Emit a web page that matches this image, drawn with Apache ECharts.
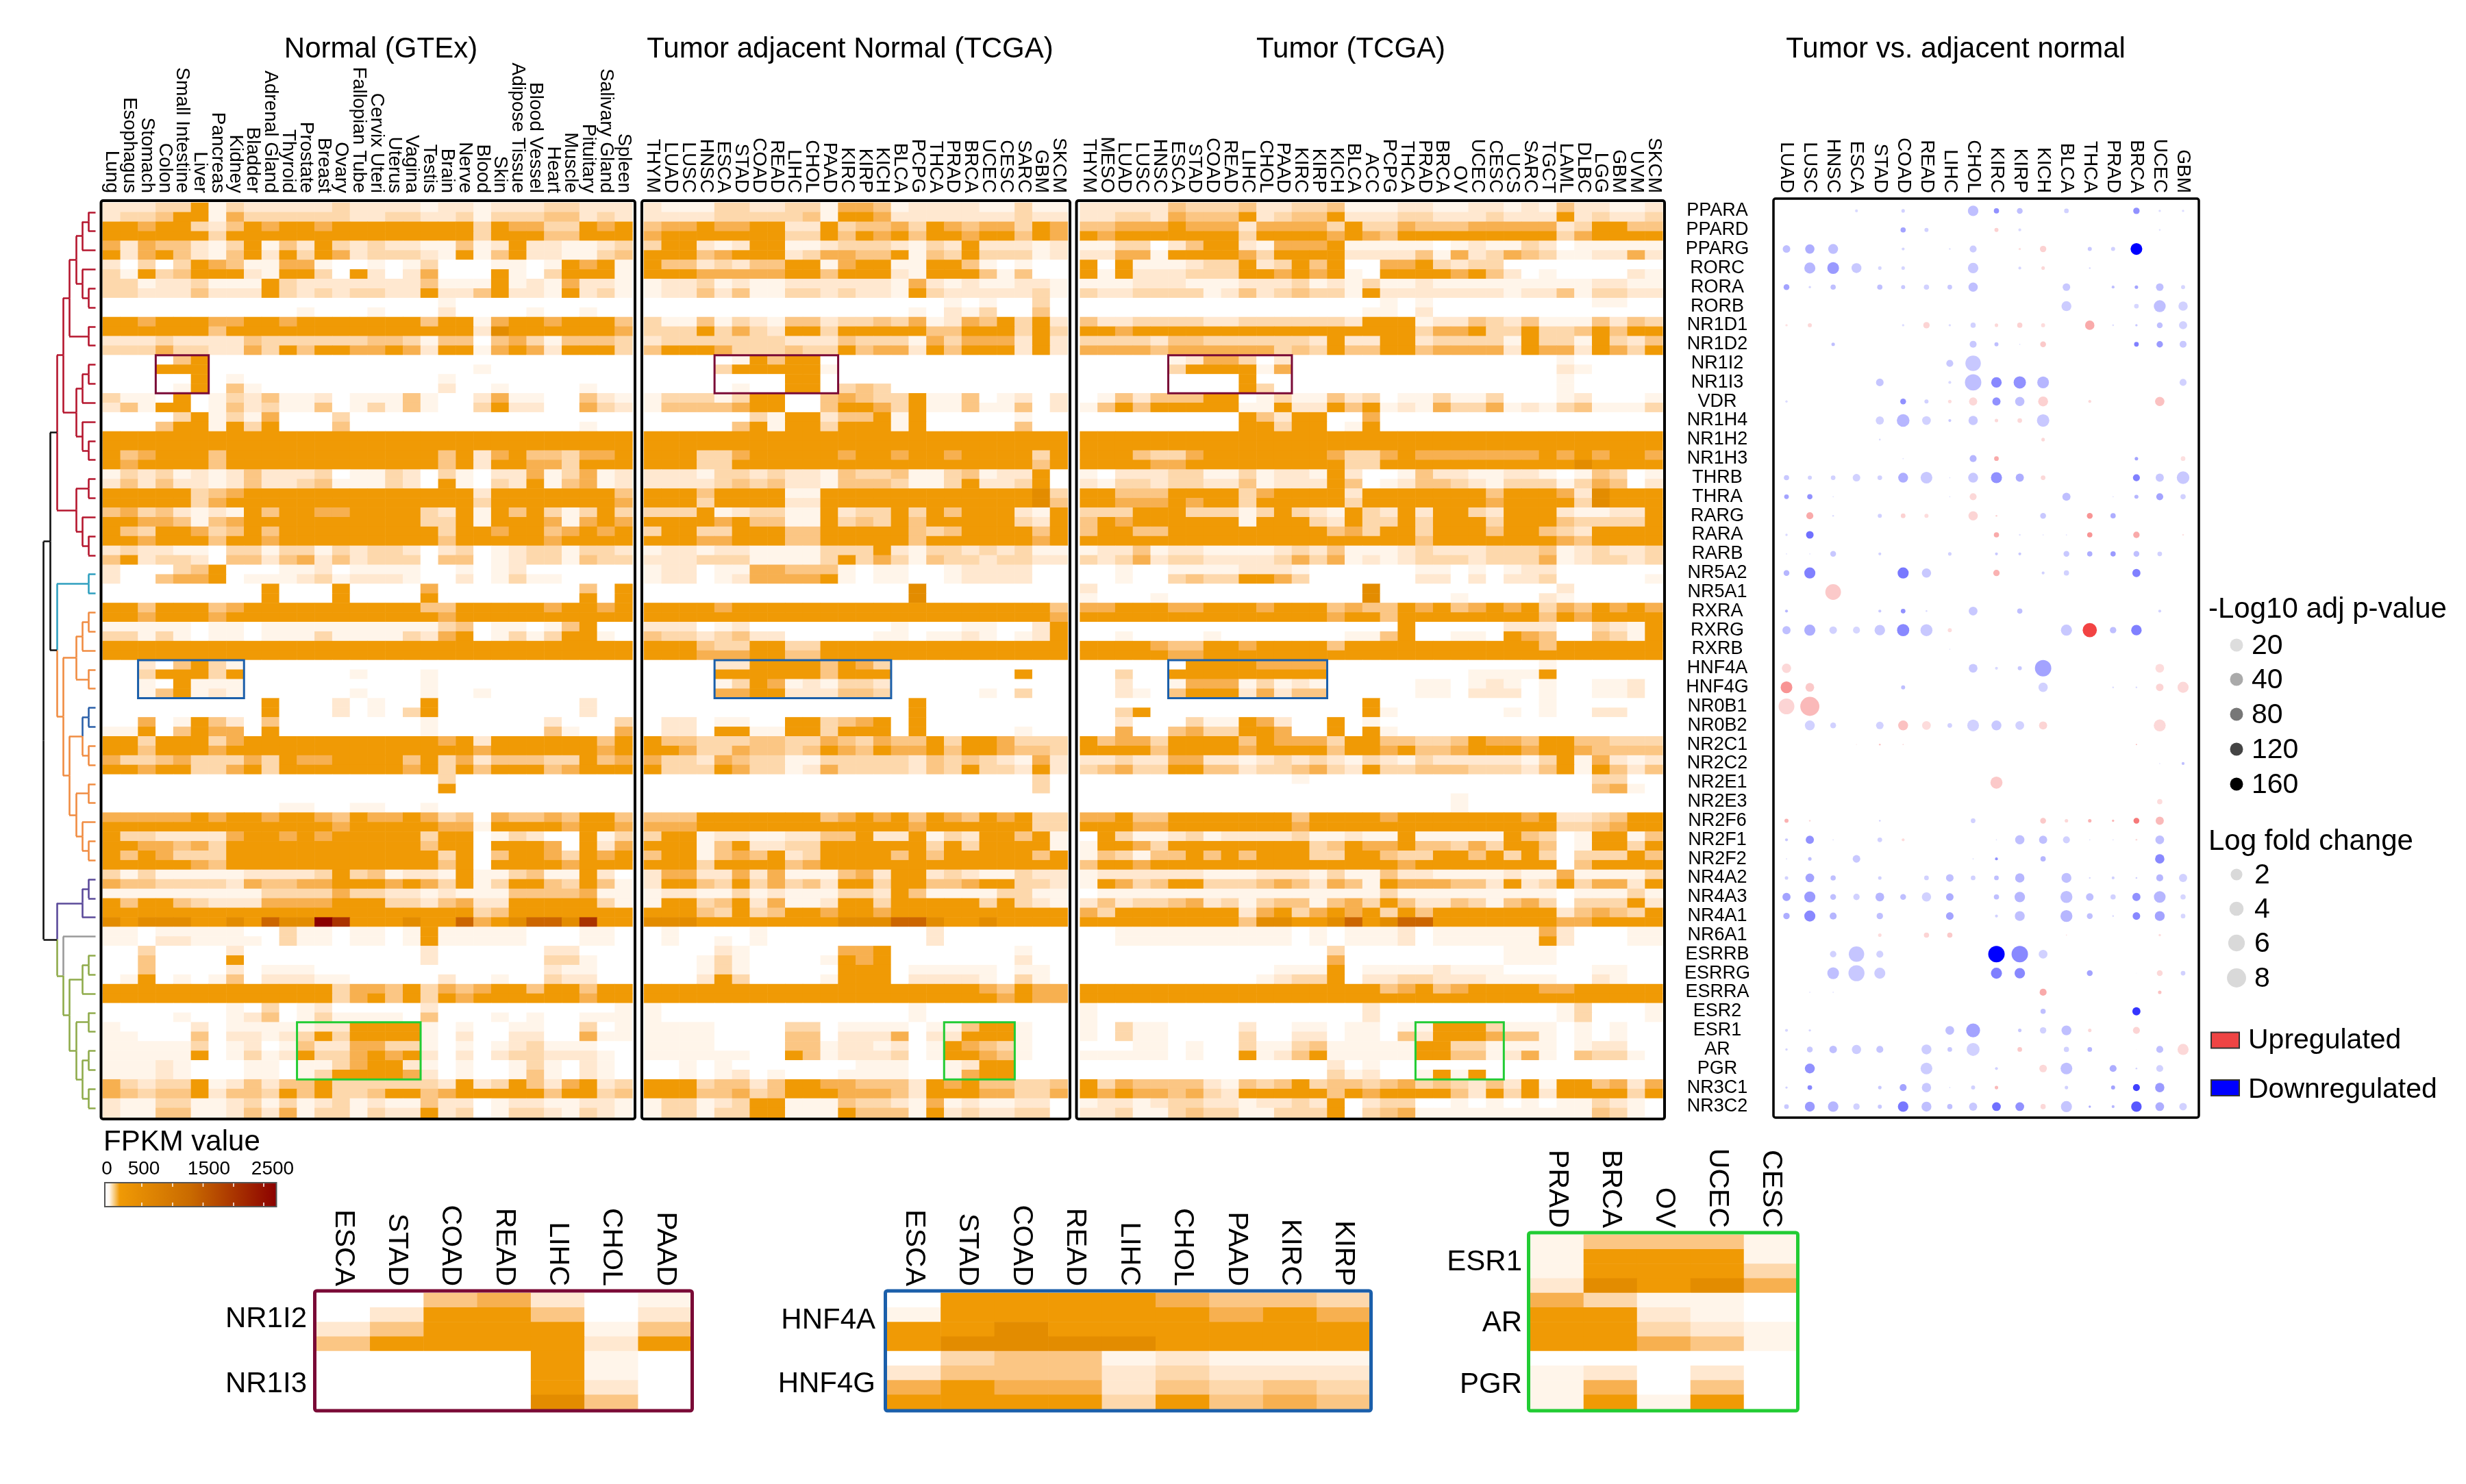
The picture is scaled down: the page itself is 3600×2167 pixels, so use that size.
<!DOCTYPE html>
<html><head><meta charset="utf-8">
<style>html,body{margin:0;padding:0;background:#fff}#c{width:3600px;height:2167px}</style>
<script src="https://cdn.jsdelivr.net/npm/echarts@6/dist/echarts.min.js"></script>
</head><body><div id="c"></div>
<script>
const FONT='"Liberation Sans",Arial,sans-serif';
const genes=["PPARA","PPARD","PPARG","RORC","RORA","RORB","NR1D1","NR1D2","NR1I2","NR1I3","VDR","NR1H4","NR1H2","NR1H3","THRB","THRA","RARG","RARA","RARB","NR5A2","NR5A1","RXRA","RXRG","RXRB","HNF4A","HNF4G","NR0B1","NR0B2","NR2C1","NR2C2","NR2E1","NR2E3","NR2F6","NR2F1","NR2F2","NR4A2","NR4A3","NR4A1","NR6A1","ESRRB","ESRRG","ESRRA","ESR2","ESR1","AR","PGR","NR3C1","NR3C2"];
const gtexTissues=["Lung","Esophagus","Stomach","Colon","Small Intestine","Liver","Pancreas","Kidney","Bladder","Adrenal Gland","Thyroid","Prostate","Breast","Ovary","Fallopian Tube","Cervix Uteri","Uterus","Vagina","Testis","Brain","Nerve","Blood","Skin","Adipose Tissue","Blood Vessel","Heart","Muscle","Pituitary","Salivary Gland","Spleen"];
const adjacentTypes=["THYM","LUAD","LUSC","HNSC","ESCA","STAD","COAD","READ","LIHC","CHOL","PAAD","KIRC","KIRP","KICH","BLCA","PCPG","THCA","PRAD","BRCA","UCEC","CESC","SARC","GBM","SKCM"];
const tumorTypes=["THYM","MESO","LUAD","LUSC","HNSC","ESCA","STAD","COAD","READ","LIHC","CHOL","PAAD","KIRC","KIRP","KICH","BLCA","ACC","PCPG","THCA","PRAD","BRCA","OV","UCEC","CESC","UCS","SARC","TGCT","LAML","DLBC","LGG","GBM","UVM","SKCM"];
const deTypes=["LUAD","LUSC","HNSC","ESCA","STAD","COAD","READ","LIHC","CHOL","KIRC","KIRP","KICH","BLCA","THCA","PRAD","BRCA","UCEC","GBM"];
// colour level per gene: [upper half, lower half], one char per column
const gtexLevels=[
["2223361322 2223222212 2122233222","2334661533 3333223322 3133344232"],
["6656632465 6656666666 6365533656","6666663666 6666666666 6366644666"],
["5254421361 4263232211 4126221123","6256421462 6365233321 6146221134"],
["2030365411 5510010130 0011016561","3163466621 6630620250 0061036661"],
["3312231116 3222222241 1161215221","3322242226 3232332262 2462216231"],
["0000000000 0000000001 0000000000","0000000000 0100010002 0000100100"],
["6656665566 5666666646 6156656664","6666664666 6666666666 6276666665"],
["2223222243 3333344314 4045314443","3335332253 6466556526 6156526663"],
["0000460000 0000000000 0000000000","0006660000 0000000000 0100000000"],
["0000060100 0000000001 0000000000","0000160410 0000000002 0010000100"],
["3110601324 1120111410 0251100421","2416601423 1140131410 0362200532"],
["0000361315 0003000000 0000000000","0004661636 0004000000 0000000100"],
["6666666666 6666666666 6666666666","6666666666 6666666666 6666666666"],
["6456664666 6666666664 6256443556","6566664666 6666666664 6266553666"],
["1323121242 2230113203 1022513512","2424221242 2341113206 1032614512"],
["6666634566 6666666666 6266666664","6666635666 6666666666 6366666665"],
["4534212164 6655666632 6164631363","6655414566 6666666633 6166651565"],
["6436653464 6666666663 6656645656","6656664665 6666666664 6666656666"],
["2322110331 3313233202 3012331332","4623320442 4524233304 4012331433"],
["2000346000 1120111100 1012000000","2004556011 1231222100 2013110000"],
["0000000006 0006000050 0000000406","0000000006 0006000060 0000000606"],
["6646664566 6666666644 6666656656","6656665666 6666666665 6666666666"],
["1111101101 1111111113 4011014600","3313101101 1131111325 6013136610"],
["6666666666 6666666666 6666666666","6666666666 6666666666 6666666666"],
["0020463100 0000000000 0000000000","0036663600 0000100010 0000000000"],
["0010611100 0000000010 0000000000","0014612100 0000100010 0100000000"],
["0000000006 0002010060 0000000200","0000000006 0002010360 0000000200"],
["0050164204 0000000010 0000020003","1160465506 0000000010 0000041005"],
["6636663566 6666666665 6266666646","6646665666 6666666666 6566666656"],
["5334533353 6556666463 5244433645","6656633563 6666666563 6466645666"],
["0000000000 0000000003 0000000000","0000000000 0000000006 0000000000"],
["0000000000 0000000000 0000000000","0000000000 1100110010 0000000000"],
["5555565665 6654655653 4054454664","6666666666 6665666665 5166665665"],
["6332222566 5656666636 6013200613","6655453666 6666666646 6066650625"],
["6465333666 6666666663 6046653656","6666654666 6666666664 6066665666"],
["3131111122 2236341221 6113411620","5443333254 4556665653 6136643641"],
["1111111113 3335332212 1114444511","6466432225 5556663324 5226666631"],
["6666666666 6666666666 6346666666","7677766768 77a9666766 8567887966"],
["1101111100 3110110161 1111000110","1102211110 3110110161 1111000110"],
["0030000200 0000000020 0000022000","0040000600 0000000020 0000033100"],
["0040000201 1100000000 0000021100","0160101402 2211000002 0010032200"],
["6666666666 6663554635 4566466466","6666666666 6663564636 5666666566"],
["0000000103 0120000020 0000000001","0000100124 0131111040 0010100111"],
["1000020111 1122666610 1001100301","1100040221 2363666610 2002200511"],
["1111130120 1422553310 1012311100","1111160131 2633565620 2023322210"],
["1112100011 0113566210 1001310210","1112100011 0136666520 1001410210"],
["5323361242 4463333332 6236425623","5434462443 6463346645 6666646634"],
["2113311231 3123121142 2012211221","2114411242 5133132262 3013321321"]];
const adjacentLevels=[
["2111332233 1554122221 1311","2222333334 1665222222 2322"],
["4556556622 6344536545 5365","5666666633 6465646656 6465"],
["3662126611 2333213262 2212","6664566623 5544614363 3312"],
["6442324466 1566116641 0100","6665555566 4666216664 1400"],
["1223121122 2222152121 1221","1224241133 2322163222 2231"],
["0000000000 0000000101 0030","0000000000 0000010213 0040"],
["3114132144 2334351254 6362","3336353266 3666664466 6363"],
["2333333322 2433315355 5262","4666533343 3645526466 6262"],
["0000016466 0000000000 0000","0000366666 1000000000 0000"],
["0000000066 0000000000 0000","0000010066 0343000000 0000"],
["1333136600 4543361140 1202","1444456600 4665361141 1402"],
["0000003166 2446160000 0100","0000046166 3666160000 0400"],
["6666666666 6666666666 6666","6666666666 6666666666 6666"],
["6663356666 6566566566 6636","6663366666 6666666666 6646"],
["2221332322 1433411341 2260","2222343422 1444311362 2360"],
["6664666611 6666666666 6673","6663666622 6666666666 6674"],
["3336123311 6233636466 6216","6666564411 6343646666 6326"],
["3663366644 6666643466 6646","6665566644 6666646666 6656"],
["1221221111 3336213323 2311","2223331111 3635314332 3322"],
["1220115544 4101100122 2200","1220125555 6101100122 2200"],
["0000000000 0000070000 0000","0000000000 0000070000 0000"],
["6666566666 6666666666 6664","6666666666 6666666666 6665"],
["2220120000 0000100011 0026","4332342200 0001101121 0126"],
["6664336633 6666666666 6666","6665556644 6666666666 6666"],
["0000226666 4653000000 0000","0000666666 4666000000 0600"],
["0000136512 1332000000 0000","0000556622 2443000001 0300"],
["0000000000 0000060000 0000","0000000000 0000060000 0000"],
["0220110066 3456060000 0000","0220661166 3666060000 0100"],
["6443334433 5435446366 5333","6653354434 6546556466 5443"],
["5332543311 3333324343 2152","6333653312 5333324363 3262"],
["0000000000 0000000000 0030","0000000000 0000000000 0030"],
["0000000000 0000000000 0000","0000000000 0000000000 0000"],
["4446666666 4565646546 5633","5556666666 6666656666 6633"],
["3661221122 4462261326 6461","6661462233 6666663636 6661"],
["4661454623 6666464666 6646","6663666645 6666666666 6666"],
["2552252511 1452662321 1322","2664363534 2663664456 6332"],
["1221131211 1332641111 3311","1663462511 2663666663 6321"],
["6664363466 5665666666 6666","7776666666 6777887667 6666"],
["0100001000 0000002000 0000","0100101000 0000002000 0000"],
["0000210000 0556000000 0100","0001310000 1656000000 0200"],
["0001310000 0666011111 0110","0002630000 1666022221 0310"],
["6666666666 6666666665 4655","6666666666 6666666666 5655"],
["1000000000 0000010000 0000","1000000000 0000010000 0000"],
["1111000033 0111101146 6100","1111000044 0222502266 6100"],
["1111000044 1221201654 3100","1111110064 1222301665 4100"],
["0010100000 0011100126 6000","0010120100 0111100156 6000"],
["6663442466 5544426564 4334","6664453466 6555426665 5335"],
["1331236611 1433215121 1220","1331336611 1644416232 2330"]];
const tumorLevels=[
["2222243334 2233411122 1122121422 112","2233254446 2344622233 2223222623 223"],
["4455565552 5555363354 4455555236 644","6566666663 6666565466 6666666356 666"],
["1133024662 1555611111 0121132011 111","2255166665 3666622224 1523543112 252"],
["6061112336 2364600556 3233000000 000","6162223336 6565610666 6564201000 021"],
["1112221112 2231213112 1111111112 211","3223333124 2343316222 2222122413 322"],
["0000000000 0000000101 0000000001 100","0000000000 0000001102 0000000000 000"],
["4223333223 3333326661 2243241114 243","6656666666 6666666663 5563363346 466"],
["3333244333 3332622662 3333163316 324","5555455555 5343644664 5555265526 536"],
["0000012553 0200000000 0000000100 000","0000036666 1500000000 0000000210 000"],
["0000000006 0000000000 0000000100 000","0000000006 3000000000 0000000100 000"],
["0142444660 1311423011 3113000120 001","1464666661 1622646121 5335121341 113"],
["0000000006 4266005000 0000000000 000","0000000006 6366016000 0000000000 000"],
["6666666666 6666666666 6666666666 666","6666666666 6666666666 6666666666 666"],
["6664335666 6666533565 5555556565 665","6666556666 6666633666 6666666676 666"],
["1022233113 1221620014 2211221014 301","2133233224 1222640124 4321333135 402"],
["6644466663 5666626666 6664666527 666","6655565663 6666636666 6665666637 666"],
["3336663331 3632163262 6632666211 226","4656666661 6663263363 6663666433 336"],
["4664466666 6666453663 6664664326 666","6666666666 6666666664 6666666546 666"],
["1224122111 1232411123 2223334123 223","3235233222 2353512123 3323335123 323"],
["0010011112 2210000001 1010122000 000","0010034336 6530000002 2020223000 001"],
["2000000000 0000007000 0000000200 000","1000100000 0000007000 0100002100 000"],
["5566655666 5666454465 6456563546 565","6666666666 6666566466 6666664656 666"],
["0000000000 0000000060 0000222003 216","0010000100 0000011460 0110654004 316"],
["6666544665 6666466666 6666664666 666","6666655666 6666666666 6666666666 666"],
["0000006666 5555000000 0000001000 000","0030066666 6666000000 0011116000 000"],
["0020015551 3121000001 1012101001 120","0021046662 5244000001 1022201001 120"],
["0000000000 0000006000 0000001000 000","0036000000 0000006100 0000101002 200"],
["0020003116 5200601000 0000000000 000","0050045336 6500606100 0000000000 000"],
["6455366664 6555366443 3465546644 333","6666466665 6666466564 4566656654 444"],
["2232255221 2323213213 2222213615 212","3453366442 3345326334 4433324616 424"],
["0000000000 0010000000 0000000003 300","0000000000 0000000000 0000000004 510"],
["0000000000 0000000000 0100000000 000","0000000000 0000000000 0100000000 000"],
["5564466666 6646666566 6666656223 466","6665566666 6656666666 6666666334 566"],
["0631123122 2231121161 1111643016 614","1665366666 6663465564 4353664016 636"],
["1431446464 6663366433 6646363033 364","4665666666 6666666656 6666666046 666"],
["1222222111 2221311422 1111211511 113","1653466333 4542541655 5442623635 526"],
["0111111111 1111111311 1111111011 131","2423345231 3441453642 2431453033 362"],
["5366666662 5635656364 6666666245 436","6666666664 7766786788 6666666556 666"],
["0011111111 1101011120 1111115200 011","0011111111 1101011120 1111116200 011"],
["0000000000 0000300000 0000111000 000","0000000000 0000500000 0000111000 000"],
["0000000000 0111601111 2111000001 100","0000000000 1233602233 2221111002 100"],
["6666666666 6666666456 4566665566 666","6666666666 6666666666 6666666666 666"],
["1000000000 0000002000 0000000130 001","1000000000 0000002000 0000000130 001"],
["1031100002 0011011011 6663111010 100","1031100003 0022011042 6665441010 100"],
["0001101003 1134111116 6331111012 200","1111101006 1246111116 6441251043 310"],
["0000000000 0000201000 0000000000 000","0000000000 0000312001 6160000000 000"],
["6354444214 3463443453 4324261664 525","6565545326 6666465666 6426362666 636"],
["1221233221 2232602330 0101010113 210","2231134331 1333603451 1111111114 310"]];
// zoomed-in panels: four sub-rows per gene, one char per column
const nr1iTypes=["ESCA","STAD","COAD","READ","LIHC","CHOL","PAAD"], nr1iGenes=["NR1I2","NR1I3"];
const nr1iLevels=["0045201","0266402","2466614","4666626","0000610","0000610","0000620","0000740"];
const hnfTypes=["ESCA","STAD","COAD","READ","LIHC","CHOL","PAAD","KIRC","KIRP"], hnfGenes=["HNF4A","HNF4G"];
const hnfLevels=["066665443","166666565","667666666","677776666","034412111","244423222","565524343","666636454"];
const esrTypes=["PRAD","BRCA","OV","UCEC","CESC"], esrGenes=["ESR1","AR","PGR"];
const esrLevels=["14441","16661","16663","27675","53110","66210","66321","66541","00000","12020","15040","16160"];
// differential expression: [type index, log fold change, signed -log10 p]
const dePoints=[
[[3,.5,-10],[5,.6,-15],[8,1.8,-25],[9,.9,-50],[10,1,-25],[12,.8,-15],[15,1.1,-50],[16,.4,-8],[17,.4,-8]],
[[5,.9,-40],[6,.7,-15],[9,.7,20],[10,.5,-10],[16,.3,-5]],
[[0,1.3,-25],[1,1.6,-35],[2,1.7,-25],[5,.5,-12],[7,.3,-6],[8,1.2,-18],[10,.4,10],[11,1.1,20],[13,.7,-20],[14,.7,-15],[15,2,-160]],
[[1,1.9,-30],[2,2,-45],[3,1.7,-20],[4,.6,-12],[5,.6,-12],[8,1.8,-20],[10,.5,-12],[11,.6,15],[13,.3,-10]],
[[0,1,-40],[1,.4,-12],[2,.9,-25],[4,.9,-25],[5,.7,-20],[6,.9,-15],[7,.8,-20],[8,1.6,-25],[12,1.3,-20],[14,.5,-25],[15,.6,-40],[16,1.3,-25],[17,.7,-12]],
[[12,1.7,-18],[15,.8,-12],[16,2.2,-25],[17,1.6,-15]],
[[0,.4,8],[1,.7,15],[5,.4,-8],[6,1.1,18],[7,.4,-8],[8,.9,-15],[9,.6,15],[10,.9,20],[11,.7,12],[13,1.6,45],[14,.3,-6],[15,.4,-20],[16,1,-25],[17,1.4,-15]],
[[2,.6,-25],[8,1.2,-20],[9,.7,-25],[10,.2,-8],[11,1,25],[15,.8,-60],[16,1.1,-45],[17,1.2,-20]],
[[7,1.2,-20],[8,5,-20]],
[[4,1.3,-22],[7,.5,-10],[8,5.8,-25],[9,1.8,-55],[10,2.5,-50],[11,2,-30],[17,1.2,-15]],
[[0,.4,-8],[5,1,-50],[6,.7,-15],[7,.6,12],[8,1.4,15],[9,1.4,-50],[10,1.6,-25],[11,1.7,20],[13,.5,15],[16,1.6,30]],
[[4,1.4,-15],[5,2.8,-30],[6,1.5,-15],[7,.5,-20],[8,1.6,-20],[9,.6,15],[10,.8,15],[11,2.6,-20]],
[[4,.3,-10],[11,.6,15]],
[[5,.2,-5],[8,1.2,-30],[9,.8,45],[15,.6,-40],[17,.8,10]],
[[0,.9,-20],[1,.7,-15],[2,.8,-15],[3,1.3,-15],[4,.8,-15],[5,1.7,-35],[6,2,-20],[7,.2,-5],[8,1.7,-20],[9,1.9,-50],[10,1.4,-35],[11,.8,15],[15,1.2,-60],[16,1.4,-20],[17,2.7,-20]],
[[0,.8,-40],[1,.9,-50],[2,.2,-5],[7,.2,-5],[8,1.2,15],[12,1.4,-25],[14,.2,-5],[15,.7,-30],[16,1.2,-40],[17,.9,-15]],
[[1,1.2,45],[2,.3,-8],[4,.7,-15],[5,.8,20],[6,.7,12],[8,1.6,18],[9,.3,20],[11,1,-20],[13,1,60],[14,.9,-35]],
[[0,.4,-10],[1,1.3,-70],[9,.9,45],[10,.3,-6],[11,.2,-6],[12,.2,-6],[13,.9,60],[15,1.1,45],[17,.3,8]],
[[0,.2,-5],[1,.2,-5],[2,1,-20],[4,.5,-15],[7,.6,-15],[9,.5,-20],[10,.5,-20],[12,1,-20],[13,.9,-35],[14,.9,-45],[15,1,-25],[16,.8,-15]],
[[0,1,-30],[1,1.9,-60],[5,1.9,-65],[6,1.6,-20],[9,1.1,40],[11,.5,-15],[12,.9,-15],[15,1.4,-60]],
[[2,5.2,25]],
[[0,.5,-30],[4,.5,-20],[5,.8,-50],[6,.3,-10],[8,1.5,-20],[10,.9,-25],[16,.5,-15]],
[[0,1.4,-25],[1,1.9,-35],[2,1.3,-15],[3,1.2,-12],[4,1.8,-20],[5,2.4,-55],[6,2.2,-20],[7,.7,12],[12,1.9,-20],[13,4,130],[14,1.1,-25],[15,1.8,-60]],
[[7,.2,-3]],
[[0,1.6,15],[8,1.5,-20],[9,.5,-10],[10,.7,-20],[11,5.8,-40],[16,1.5,12]],
[[0,2,60],[1,1.5,25],[5,.7,-25],[11,1.6,-15],[14,.3,-8],[15,.3,-8],[16,1.3,18],[17,1.9,15]],
[[0,5.3,18],[1,8,35]],
[[1,1.7,-15],[2,1,-15],[4,1.3,-15],[5,1.7,30],[6,1.5,12],[7,.8,-15],[8,2,-15],[9,1.7,-20],[10,1.5,-15],[11,1.4,18],[16,2.2,15]],
[[3,.15,5],[4,.3,30],[5,.2,15],[15,.2,40]],
[[16,.2,-5],[17,.5,-25]],
[[9,2.3,25]],
[[16,.9,12]],
[[0,.7,40],[1,.3,15],[4,.3,-15],[8,.8,-15],[11,1,25],[12,.6,15],[13,.6,40],[14,.4,35],[15,1,80],[16,1.4,35]],
[[0,.5,-20],[1,1.4,-50],[2,.2,-6],[4,.8,-15],[5,.5,12],[9,.2,-6],[10,1.6,-25],[11,1.4,-25],[12,1.2,-15],[13,.2,-6],[14,.2,-6],[15,.3,15],[16,1.5,-25]],
[[0,.2,-8],[1,.6,-25],[3,1.3,-20],[8,.2,-8],[9,.5,-50],[11,.9,-30],[16,1.6,-55]],
[[0,.6,-15],[1,1.5,-40],[2,.9,-25],[4,.6,-15],[6,.8,-15],[7,1.3,-25],[8,.8,-15],[9,.8,-25],[10,1.6,-30],[12,1.7,-25],[13,.3,-10],[14,.5,-15],[15,.3,-15],[16,1.2,-30],[17,1.4,-15]],
[[0,1.4,-40],[1,1.9,-45],[2,1,-25],[3,1.1,-15],[4,1.5,-30],[5,1,-25],[6,1.6,-15],[7,1.3,-35],[9,.9,-25],[10,1.8,-30],[12,2.2,-25],[13,1.3,-25],[14,.9,-15],[15,1.4,-50],[16,2,-30],[17,.9,-12]],
[[0,1.1,-35],[1,1.9,-55],[2,1.2,-30],[4,1.1,-25],[7,1.3,-40],[9,.5,-15],[10,1.7,-25],[12,2.2,-30],[13,1,-25],[14,.3,-8],[15,1.3,-55],[16,1.7,-40],[17,.8,-12]],
[[4,.6,12],[6,.9,18],[7,.9,25],[12,.2,8],[16,.4,12]],
[[2,1.1,-15],[3,5,-22],[4,1.2,-15],[9,5.8,-160],[10,5.8,-55],[11,1.5,-15]],
[[2,2,-25],[3,5.5,-20],[4,1.9,-18],[9,1.9,-60],[10,1.8,-55],[13,1,-40],[15,.1,-5],[16,1,15],[17,.8,-15]],
[[1,.2,-5],[2,.2,-5],[11,1.2,45],[16,.6,30]],
[[11,.9,-25],[15,1.4,-110]],
[[0,.5,-12],[1,.4,-12],[7,1.5,-25],[8,3.8,-40],[10,.6,-20],[11,1.1,-15],[12,1.7,-25],[13,.6,15],[15,1.2,18]],
[[0,.4,-12],[1,1,-20],[2,1.3,-25],[3,1.6,-18],[4,1.2,-22],[6,1.7,-18],[7,.8,-20],[8,3,-15],[10,.8,25],[12,.9,-15],[13,.8,-30],[15,.1,5],[16,1.2,-25],[17,1.9,15]],
[[1,1.7,-50],[6,2,-18],[9,.5,-15],[11,1.3,15],[12,2,-25],[14,1.2,-35],[15,.3,-15],[16,1.2,-15]],
[[0,.4,-15],[1,.8,-55],[4,.6,-20],[5,1.2,-40],[6,1.6,-20],[7,.2,-8],[8,.7,-15],[9,.6,35],[12,.6,-15],[14,.7,-40],[15,1.2,-100],[16,1.6,-45]],
[[0,.8,-20],[1,1.7,-45],[2,1.8,-30],[3,1.1,-15],[4,.7,-20],[5,1.8,-65],[6,1.7,-25],[7,.9,-25],[8,1.4,-20],[9,1.5,-70],[10,1.5,-50],[11,.9,15],[12,1.9,-22],[13,.4,-35],[14,.5,-30],[15,1.8,-85],[16,1.5,-35],[17,1.3,-15]]];
const pLegend=[20,40,80,120,160], fcLegend=[2,4,6,8];
const fpkmTicks=[0,500,1500,2500];

const LEVEL_COLORS=['#ffffff','#fff5ea','#ffe8d0','#fdd8ac','#fbc684','#f7b050','#f09a05','#e38c00','#cc6600','#aa3300','#8b0000'];
const CELL=25.78, ROW=27.83, TOP=296;
const panels=[
 {cats:gtexTissues,levels:gtexLevels,left:150,box:[147.5,293,779.5,1341],title:'Normal (GTEx)',tx:551,
  hl:[[3,6,8,10],[2,8,24,26],[11,18,43,46]]},
 {cats:adjacentTypes,levels:adjacentLevels,left:940,box:[937,293,625,1341],title:'Tumor adjacent Normal (TCGA)',tx:1236,
  hl:[[4,11,8,10],[4,14,24,26],[17,21,43,46]]},
 {cats:tumorTypes,levels:tumorLevels,left:1576.6,box:[1571.5,293,858.5,1341],title:'Tumor (TCGA)',tx:1967,
  hl:[[5,12,8,10],[5,14,24,26],[19,24,43,46]]}];
const hlColors=['#7a0a36','#1b5faa','#22cc33'];
const lvl=s=>s.replace(/\s/g,'');
const grid=[],xAxis=[],yAxis=[],series=[],graphic=[],title=[];
const labelStyle={color:'#000',fontFamily:FONT};
function addHeat(cats,rowsCount,left,top,w,h,data,fs,margin){
  const gi=grid.length;
  grid.push({left,top,width:w,height:h,containLabel:false});
  xAxis.push({gridIndex:gi,type:'category',position:'top',data:cats,axisLine:{show:false},axisTick:{show:false},splitLine:{show:false},
    axisLabel:{...labelStyle,rotate:90,interval:0,fontSize:fs,margin}});
  const yi=yAxis.length;
  yAxis.push({gridIndex:gi,type:'category',inverse:true,data:Array.from({length:rowsCount},(_,i)=>i),show:false});
  series.push({type:'heatmap',xAxisIndex:xAxis.length-1,yAxisIndex:yi,data,silent:true,animation:false,progressive:0,itemStyle:{borderWidth:0}});
  return {gi,yi};
}
panels.forEach(p=>{
  const n=p.cats.length,data=[];
  p.levels.forEach((pair,g)=>pair.forEach((s,h)=>{
    const t=lvl(s);
    for(let c=0;c<n;c++)data.push([c,g*2+h,parseInt(t[c]||'0',36)]);
  }));
  addHeat(p.cats,96,p.left,TOP,n*CELL,48*ROW,data,28,14);
  title.push({text:p.title,left:p.tx,top:46,textAlign:'center',textStyle:{...labelStyle,fontSize:42,fontWeight:'normal'}});
  graphic.push({type:'rect',shape:{x:p.box[0],y:p.box[1],width:p.box[2],height:p.box[3],r:3},style:{fill:'transparent',stroke:'#000',lineWidth:4},z:100});
  p.hl.forEach((b,i)=>graphic.push({type:'rect',shape:{x:p.left+b[0]*CELL,y:TOP+b[2]*ROW,width:(b[1]-b[0])*CELL,height:(b[3]-b[2])*ROW},
    style:{fill:'transparent',stroke:hlColors[i],lineWidth:3},z:101}));
});
title.push({text:'Tumor vs. adjacent normal',left:2850,top:46,textAlign:'center',textStyle:{...labelStyle,fontSize:42,fontWeight:'normal'}});

// scatter
const fcSize=f=>f<2?f*8.5:13.5+1.8*f;
const alphaOf=p=>{const a=Math.abs(p),T=[[0,.08],[5,.12],[15,.18],[25,.25],[40,.36],[60,.5],[100,.75],[160,1]];
  for(let i=1;i<T.length;i++)if(a<=T[i][0]){const q=(a-T[i-1][0])/(T[i][0]-T[i-1][0]);return T[i-1][1]+q*(T[i][1]-T[i-1][1]);}return 1;};
const tint=p=>{const al=alphaOf(p),b=p<0?[0,0,255]:[240,40,40];return 'rgb('+b.map(v=>Math.round(255+(v-255)*al)).join(',')+')';};
{
 const gi=grid.length;
 grid.push({left:2591,top:TOP-2,width:613,height:48*ROW});
 xAxis.push({gridIndex:gi,type:'category',position:'top',data:deTypes,axisLine:{show:false},axisTick:{show:false},splitLine:{show:false},
   axisLabel:{...labelStyle,rotate:90,interval:0,fontSize:28,margin:12}});
 yAxis.push({gridIndex:gi,type:'category',inverse:true,data:genes,axisLine:{show:false},axisTick:{show:false},splitLine:{show:false},
   axisLabel:{...labelStyle,interval:0,fontSize:27,align:'center',margin:84,padding:[5,0,0,0]}});
 const data=[];
 dePoints.forEach((pts,g)=>pts.forEach(d=>data.push([d[0],g,d[1],d[2]])));
 series.push({type:'scatter',xAxisIndex:xAxis.length-1,yAxisIndex:yAxis.length-1,data,silent:true,animation:false,
   symbolSize:v=>fcSize(v[2]),itemStyle:{color:q=>tint(q.value[3]),opacity:1}});
 graphic.push({type:'rect',shape:{x:2589,y:290,width:621,height:1342,r:3},style:{fill:'transparent',stroke:'#000',lineWidth:3.5},z:100});
}

const txt=(x,y,s,fs,a)=>({type:'text',x,y,style:{text:s,fontSize:fs,fontFamily:FONT,fill:'#000',textAlign:a||'left',textVerticalAlign:'middle'},z:110});
// insets
function addInset(cats,genesList,rows,left,top,w,h,color,box,labelX,labelY){
  const data=[];rows.forEach((s,r)=>{for(let c=0;c<cats.length;c++)data.push([c,r,parseInt(s[c],36)]);});
  addHeat(cats,rows.length,left,top,w,h,data,41,10);
  genesList.forEach((g,i)=>graphic.push(txt(labelX,labelY[i],g,42,'right')));
  graphic.push({type:'rect',shape:{x:box[0],y:box[1],width:box[2],height:box[3],r:3},style:{fill:'transparent',stroke:color,lineWidth:5},z:100});
}
addInset(nr1iTypes,nr1iGenes,nr1iLevels,462,1888,548,170,'#7a0a36',[459.5,1885,551,175],448,[1926,2021]);
addInset(hnfTypes,hnfGenes,hnfLevels,1295,1888,706,170,'#1b5faa',[1292.5,1885,709,175],1278,[1928,2021]);
addInset(esrTypes,esrGenes,esrLevels,2234,1803,390,255,'#22cc33',[2231.5,1800,393,260],2222,[1843,1932,2022]);

// dendrogram: [height, childA, childB, colour, split]; numbers are gene rows
const N=(h,a,b,c,s)=>({h,a,b,c,s});
const C={black:'#111111',red:'#b5162e',teal:'#2e9fbf',orange:'#f08c42',blue:'#2a5fa8',purple:'#5b4a9a',green:'#8fab4b',gray:'#9a9a9a'};
const H=[0,10.5,19.5,28.5,38.5,47.5,56.5,66.5,76];
const redTree=N(H[6],N(H[5],N(H[4],N(H[3],N(H[2],N(H[1],0,1),2),N(H[2],3,N(H[1],4,5))),N(H[1],6,7)),N(H[3],N(H[2],N(H[1],8,9),10),N(H[2],11,N(H[1],12,13)))),N(H[3],N(H[1],14,15),N(H[2],16,N(H[1],17,18))),C.red);
const tealTree=N(H[1],19,20,C.teal);
const orangeTree=N(H[5],N(H[3],N(H[2],N(H[1],21,22),23),N(H[1],24,25)),N(H[4],N(H[2],N(H[1],26,27,C.blue),N(H[1],28,29,C.orange),C.orange,true),N(H[3],N(H[1],30,31),N(H[2],32,N(H[1],33,34)))),C.orange);
const purpleTree=N(H[2],N(H[1],35,36),37,C.purple);
const greenTree=N(H[4],N(H[2],N(H[1],39,40),41),N(H[3],N(H[1],42,43),N(H[2],N(H[1],44,45),N(H[1],46,47))),C.green);
const lowerTree=N(H[6],purpleTree,N(H[5],{leaf:38,c:C.gray},greenTree,C.gray,true),C.black,true);
lowerTree.b.c=C.green;
const dendro=N(H[8],N(H[7],redTree,N(H[6],tealTree,orangeTree,C.orange,true),C.black),lowerTree,C.black);
const segs=[];
function seg(x1,y1,x2,y2,c){segs.push({coords:[[x1,y1],[x2,y2]],lineStyle:{color:c}});}
function walk(n,inh){
  if(typeof n==='number')return{y:n+.5,h:0};
  if(n.leaf!==undefined)return{y:n.leaf+.5,h:0};
  const c=n.c||inh,ra=walk(n.a,c),rb=walk(n.b,c),m=(ra.y+rb.y)/2;
  const ca=n.s?colorOf(n.a,c):c,cb=n.s?colorOf(n.b,c):c;
  seg(n.h,ra.y,n.h,m,ca);seg(n.h,m,n.h,rb.y,cb);
  seg(n.h,ra.y,ra.h,ra.y,ca);seg(n.h,rb.y,rb.h,rb.y,cb);
  return{y:m,h:n.h};
}
function colorOf(ch,c){return (ch&&ch.c)||c;}
walk(dendro,C.black);
{
 const gi=grid.length;
 grid.push({left:39.5,top:TOP,width:100,height:48*ROW});
 xAxis.push({gridIndex:gi,type:'value',min:0,max:100,inverse:true,show:false});
 yAxis.push({gridIndex:gi,type:'value',min:0,max:48,inverse:true,show:false});
 series.push({type:'lines',coordinateSystem:'cartesian2d',xAxisIndex:xAxis.length-1,yAxisIndex:yAxis.length-1,data:segs,silent:true,animation:false,lineStyle:{width:2.6,opacity:1,curveness:0}});
}

// legends
graphic.push(txt(151,1668,'FPKM value',42));
const tickX=[156,210,305,398];
fpkmTicks.forEach((t,i)=>graphic.push(txt(tickX[i],1707,String(t),28,'center')));
graphic.push({type:'rect',shape:{x:153,y:1727,width:250.5,height:35},
  style:{fill:new echarts.graphic.LinearGradient(0,0,1,0,[{offset:0,color:'#ffffff'},{offset:.03,color:'#fff8ef'},{offset:.09,color:'#f09a05'},{offset:.5,color:'#c96a00'},{offset:1,color:'#8b0000'}]),stroke:'#555',lineWidth:2},z:105});
[207,252,296.5,341,385].forEach(x=>{
  graphic.push({type:'line',shape:{x1:x,y1:1728,x2:x,y2:1733},style:{stroke:'#fff',lineWidth:1.5},z:106});
  graphic.push({type:'line',shape:{x1:x,y1:1756,x2:x,y2:1761},style:{stroke:'#fff',lineWidth:1.5},z:106});});
graphic.push(txt(3224,890,'-Log10 adj p-value',42));
const pCol=['#dddddd','#aaaaaa','#777777','#444444','#000000'],pY=[942,992,1043,1094,1145];
pLegend.forEach((p,i)=>{graphic.push({type:'circle',shape:{cx:3265,cy:pY[i],r:9.5},style:{fill:pCol[i]},z:110});graphic.push(txt(3287,pY[i]+2,String(p),41));});
graphic.push(txt(3224,1229,'Log fold change',42));
const fY=[1277,1327,1377,1428];
fcLegend.forEach((f,i)=>{graphic.push({type:'circle',shape:{cx:3265,cy:fY[i],r:fcSize(f)/2},style:{fill:'#d9d9d9'},z:110});graphic.push(txt(3291,fY[i]+2,String(f),41));});
graphic.push({type:'rect',shape:{x:3228,y:1507.5,width:41,height:23},style:{fill:'#ee4444',stroke:'#333',lineWidth:2},z:110});
graphic.push(txt(3282,1520,'Upregulated',41));
graphic.push({type:'rect',shape:{x:3228,y:1577,width:41,height:23},style:{fill:'#0000ff',stroke:'#333',lineWidth:2},z:110});
graphic.push(txt(3282,1592,'Downregulated',41));

const chart=echarts.init(document.getElementById('c'),null,{renderer:'canvas',width:3600,height:2167});
chart.setOption({animation:false,backgroundColor:'#fff',tooltip:{show:false},title,grid,xAxis,yAxis,series,graphic,
  visualMap:{show:false,type:'continuous',min:0,max:10,seriesIndex:series.map((s,i)=>s.type==='heatmap'?i:-1).filter(i=>i>=0),dimension:2,inRange:{color:LEVEL_COLORS}}});
</script></body></html>
